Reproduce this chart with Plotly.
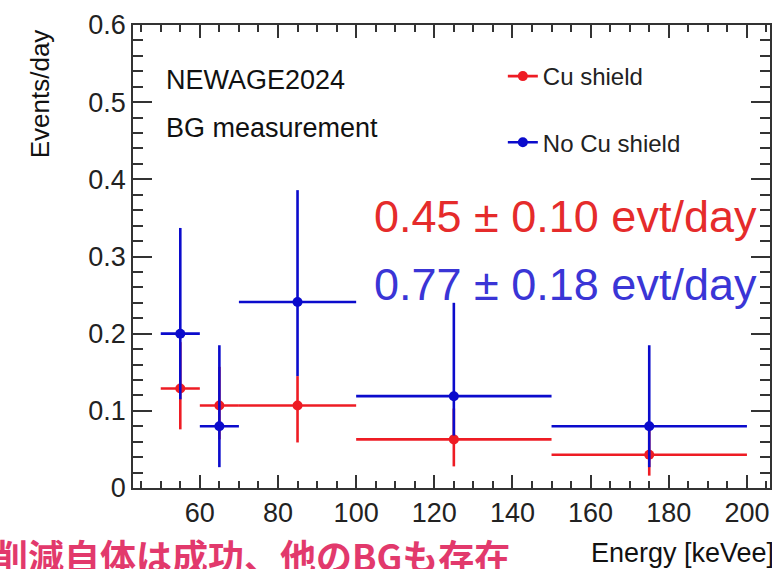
import plotly.graph_objects as go

# ---- data ----
energy = [55, 65, 85, 125, 175]            # bin centres [keVee]
bin_half = [5, 5, 15, 25, 25]              # half bin widths
cu_y = [0.129, 0.107, 0.107, 0.063, 0.043]
cu_err_hi = [0.060, 0.050, 0.038, 0.040, 0.035]
cu_err_lo = [0.053, 0.044, 0.048, 0.035, 0.027]
nocu_y = [0.200, 0.080, 0.241, 0.119, 0.080]
nocu_err_hi = [0.137, 0.105, 0.145, 0.121, 0.105]
nocu_err_lo = [0.085, 0.053, 0.096, 0.051, 0.053]

RED = "#ee1c24"
BLUE = "#0b0bcc"
FONT = "Liberation Sans, Arial, Helvetica, sans-serif"

fig = go.Figure()

def add_series(y, ehi, elo, color, name):
    fig.add_trace(go.Scatter(
        x=energy, y=y, mode="markers", showlegend=False,
        marker=dict(color=color, size=10, symbol="circle"),
        error_x=dict(type="data", symmetric=True, array=bin_half,
                     color=color, thickness=2.6, width=0),
        error_y=dict(type="data", symmetric=False, array=ehi, arrayminus=elo,
                     color=color, thickness=2.6, width=0),
    ))
    # legend-only entry
    fig.add_trace(go.Scatter(
        x=[None], y=[None], mode="lines+markers", name=name,
        legendgroup=name,
        line=dict(color=color, width=2.6),
        marker=dict(color=color, size=10),
    ))

add_series(cu_y, cu_err_hi, cu_err_lo, RED, "Cu shield")
add_series(nocu_y, nocu_err_hi, nocu_err_lo, BLUE, "No Cu shield")

axis_common = dict(
    showline=True, linecolor="#333333", linewidth=1.5, mirror="allticks",
    ticks="inside", tickcolor="#333333", tickwidth=1.5,
    showgrid=False, zeroline=False,
    tickfont=dict(family=FONT, size=27, color="#222222"),
)

fig.update_xaxes(
    range=[42.9, 205.9], dtick=20, tick0=0, ticklen=13,
    minor=dict(dtick=5, tick0=0, ticks="inside", ticklen=7,
               tickcolor="#333333", tickwidth=1.5, showgrid=False),
    **axis_common,
)
fig.update_yaxes(
    range=[0, 0.6], dtick=0.1, tick0=0, ticklen=19,
    tickvals=[0, 0.1, 0.2, 0.3, 0.4, 0.5, 0.6],
    ticktext=["0", "0.1", "0.2", "0.3", "0.4", "0.5", "0.6"],
    minor=dict(dtick=0.02, tick0=0, ticks="inside", ticklen=10,
               tickcolor="#333333", tickwidth=1.5, showgrid=False),
    **axis_common,
)

annots = [
    dict(text="NEWAGE2024", x=164, y=80, size=27, color="#111111"),
    dict(text="BG measurement", x=164, y=128, size=27, color="#111111"),
    dict(text="0.45 ± 0.10 evt/day", x=373, y=216, size=45, color="#e52b2b"),
    dict(text="0.77 ± 0.18 evt/day", x=373, y=284, size=45, color="#3a35d6"),
    dict(text="Energy [keVee]", x=590, y=553, size=27, color="#111111"),
]
for a in annots:
    fig.add_annotation(
        text=a["text"], xref="paper", yref="paper",
        x=(a["x"] - 133) / 639, y=1 - (a["y"] - 25) / 463,
        xanchor="left", yanchor="middle", showarrow=False,
        font=dict(family=FONT, size=a["size"], color=a["color"]),
    )

# y-axis title (ROOT style, aligned to top)
fig.add_annotation(
    text="Events/day", xref="paper", yref="paper",
    x=(40 - 133) / 639, y=1 - (94 - 25) / 463, textangle=-90,
    xanchor="center", yanchor="middle", showarrow=False,
    font=dict(family=FONT, size=26, color="#111111"),
)

# Japanese comment at the bottom
fig.add_annotation(
    text="<b>削減自体は成功、他のBGも存在</b>", xref="paper", yref="paper",
    x=(-10 - 133) / 639, y=1 - (555 - 25) / 463,
    xanchor="left", yanchor="middle", showarrow=False,
    font=dict(family="Noto Sans CJK JP, sans-serif", size=36, color="#e2396c"),
)

fig.update_layout(
    width=772, height=569,
    margin=dict(l=133, r=0, t=25, b=81),
    paper_bgcolor="white", plot_bgcolor="white",
    showlegend=True,
    legend=dict(
        x=(504 - 133) / 639, y=1 - (54 - 25) / 463,
        xanchor="left", yanchor="top",
        bgcolor="rgba(0,0,0,0)", borderwidth=0,
        font=dict(family=FONT, size=24, color="#222222"),
        tracegroupgap=32, itemwidth=30,
    ),
)

fig.write_html("out.html")
